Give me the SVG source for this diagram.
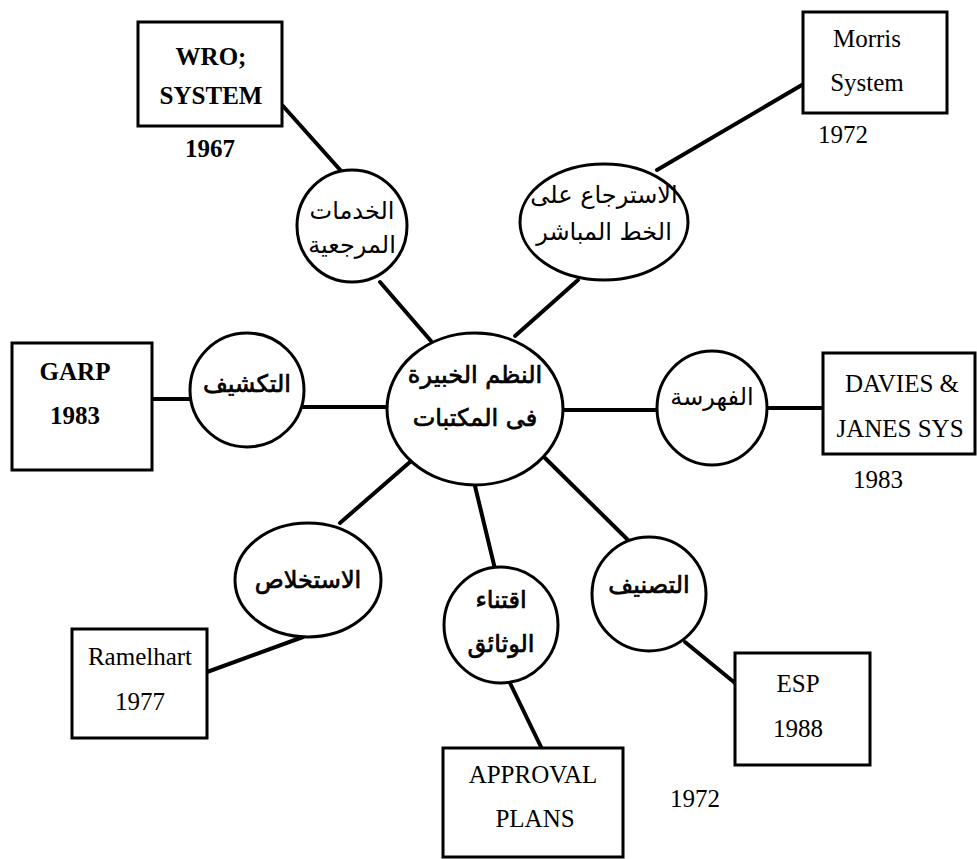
<svg xmlns="http://www.w3.org/2000/svg" width="977" height="859" viewBox="0 0 977 859">
<style>
.box{fill:#fff;stroke:#000;stroke-width:3}
.nd{fill:#fff;stroke:#000;stroke-width:3}
.ln{stroke:#000;stroke-width:4;fill:none;stroke-linecap:round}
.en{font-family:"Liberation Serif","Times New Roman",serif;font-size:25px;fill:#000;text-anchor:middle}
.b{font-weight:bold}
.ar{font-family:"DejaVu Sans","Noto Sans",sans-serif;font-size:24px;fill:#000;text-anchor:middle}
.ab{stroke:#000;stroke-width:0.7}
</style>
<rect width="977" height="859" fill="#fff"/>
<g id="connectors">
<line class="ln" x1="283" y1="106" x2="342" y2="172"/>
<line class="ln" x1="380" y1="282" x2="431" y2="341"/>
<line class="ln" x1="807" y1="82" x2="657" y2="170"/>
<line class="ln" x1="578" y1="280" x2="515" y2="336"/>
<line class="ln" x1="152" y1="399" x2="190" y2="399"/>
<line class="ln" x1="303" y1="407" x2="388" y2="407"/>
<line class="ln" x1="563" y1="410" x2="657" y2="410"/>
<line class="ln" x1="767" y1="408" x2="823" y2="408"/>
<line class="ln" x1="545" y1="458" x2="628" y2="540"/>
<line class="ln" x1="685" y1="642" x2="735" y2="683"/>
<line class="ln" x1="475" y1="486" x2="495" y2="569"/>
<line class="ln" x1="510" y1="683" x2="542" y2="749"/>
<line class="ln" x1="410" y1="462" x2="340" y2="523"/>
<line class="ln" x1="303" y1="637" x2="207" y2="672"/>
</g>
<g id="center">
<ellipse class="nd" cx="475" cy="409" rx="88" ry="76"/>
<text class="ar ab" x="475" y="383" direction="rtl">النظم الخبيرة</text>
<text class="ar ab" x="475" y="426" direction="rtl">فى المكتبات</text>
</g>
<g id="n-reference">
<ellipse class="nd" cx="352" cy="226" rx="55" ry="56"/>
<text class="ar" x="352" y="219" direction="rtl">الخدمات</text>
<text class="ar" x="352" y="253" direction="rtl">المرجعية</text>
</g>
<g id="n-online">
<ellipse class="nd" cx="604" cy="222" rx="84" ry="58"/>
<text class="ar" x="604" y="203" direction="rtl">الاسترجاع على</text>
<text class="ar" x="604" y="240" direction="rtl">الخط المباشر</text>
</g>
<g id="n-indexing">
<ellipse class="nd" cx="247" cy="390" rx="57" ry="57"/>
<text class="ar ab" x="247" y="392" direction="rtl">التكشيف</text>
</g>
<g id="n-cataloging">
<ellipse class="nd" cx="712" cy="408" rx="55" ry="57"/>
<text class="ar" x="712" y="405" direction="rtl">الفهرسة</text>
</g>
<g id="n-classification">
<ellipse class="nd" cx="649" cy="594" rx="57" ry="57"/>
<text class="ar ab" x="649" y="593" direction="rtl">التصنيف</text>
</g>
<g id="n-acquisition">
<ellipse class="nd" cx="501" cy="625" rx="57" ry="58"/>
<text class="ar ab" x="501" y="608" direction="rtl">اقتناء</text>
<text class="ar ab" x="501" y="652" direction="rtl">الوثائق</text>
</g>
<g id="n-abstracting">
<ellipse class="nd" cx="308" cy="580" rx="73" ry="57"/>
<text class="ar ab" x="308" y="588" direction="rtl">الاستخلاص</text>
</g>
<g id="b-wro">
<rect class="box" x="138" y="22" width="144" height="104"/>
<text class="en b" x="211" y="65">WRO;</text>
<text class="en b" x="211" y="104">SYSTEM</text>
<text class="en b" x="210" y="157">1967</text>
</g>
<g id="b-morris">
<rect class="box" x="803" y="12" width="144" height="101"/>
<text class="en" x="867" y="47">Morris</text>
<text class="en" x="867" y="91">System</text>
<text class="en" x="843" y="143">1972</text>
</g>
<g id="b-garp">
<rect class="box" x="12" y="343" width="140" height="127"/>
<text class="en b" x="75" y="380">GARP</text>
<text class="en b" x="75" y="424">1983</text>
</g>
<g id="b-davies">
<rect class="box" x="823" y="353" width="152" height="101"/>
<text class="en" x="902" y="392">DAVIES &amp;</text>
<text class="en" x="900" y="437">JANES SYS</text>
<text class="en" x="878" y="488">1983</text>
</g>
<g id="b-esp">
<rect class="box" x="735" y="653" width="135" height="112"/>
<text class="en" x="798" y="692">ESP</text>
<text class="en" x="798" y="737">1988</text>
</g>
<text class="en" x="695" y="807">1972</text>
<g id="b-approval">
<rect class="box" x="443" y="748" width="180" height="109"/>
<text class="en" x="533" y="783">APPROVAL</text>
<text class="en" x="535" y="827">PLANS</text>
</g>
<g id="b-ramelhart">
<rect class="box" x="72" y="629" width="135" height="109"/>
<text class="en" x="140" y="665">Ramelhart</text>
<text class="en" x="140" y="710">1977</text>
</g>
</svg>
